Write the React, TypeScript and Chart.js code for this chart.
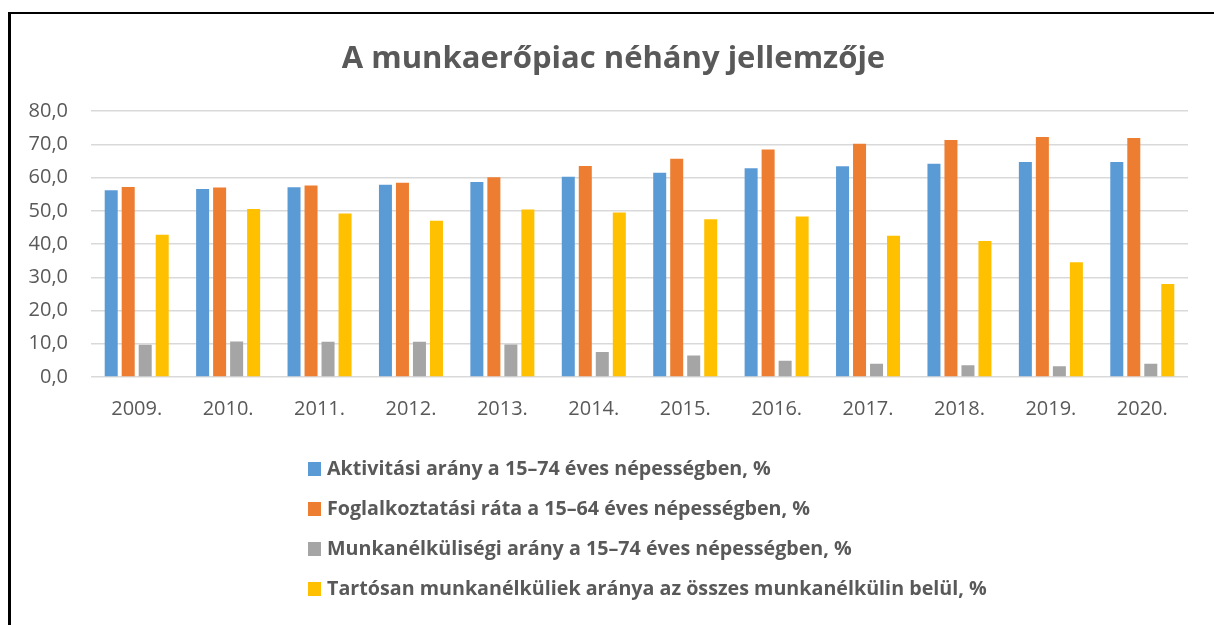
import React, { useEffect, useRef } from "react";
import { Chart, registerables } from "chart.js";

Chart.register(...registerables);

const categories = ["2009.", "2010.", "2011.", "2012.", "2013.", "2014.", "2015.", "2016.", "2017.", "2018.", "2019.", "2020."];
const activityRate = [56.2, 56.6, 57.1, 57.9, 58.7, 60.3, 61.5, 62.8, 63.4, 64.2, 64.7, 64.7];
const employmentRate = [57.2, 57.0, 57.6, 58.5, 60.1, 63.5, 65.7, 68.5, 70.2, 71.3, 72.2, 71.9];
const unemploymentRate = [9.7, 10.7, 10.6, 10.6, 9.8, 7.5, 6.5, 4.9, 4.0, 3.5, 3.2, 4.0];
const longTermShare = [42.8, 50.6, 49.2, 47.0, 50.4, 49.5, 47.5, 48.3, 42.5, 40.9, 34.5, 28.0];
const seriesLabels = [
  "Aktivitási arány a 15–74 éves népességben, %",
  "Foglalkoztatási ráta a 15–64 éves népességben, %",
  "Munkanélküliségi arány a 15–74 éves népességben, %",
  "Tartósan munkanélküliek aránya az összes munkanélkülin belül, %",
];
const seriesColors = ["#5B9BD5", "#ED7D31", "#A5A5A5", "#FFC000"];
const title = "A munkaerőpiac néhány jellemzője";

const FONT = "'Open Sans', 'Liberation Sans', sans-serif";
const TEXT = "#595959";

const shiftTitle = {
  id: "shiftTitle",
  afterLayout(chart: any) {
    if (chart.titleBlock) chart.titleBlock.left += 39;
  },
};

const stackedLegend = {
  id: "stackedLegend",
  afterDraw(chart: any) {
    const ctx = chart.ctx;
    ctx.save();
    ctx.font = `bold 19.7px ${FONT}`;
    ctx.textBaseline = "middle";
    ctx.textAlign = "left";
    chart.data.datasets.forEach((ds: any, i: number) => {
      const y = 469 + i * 40;
      ctx.fillStyle = ds.backgroundColor;
      ctx.fillRect(308, y - 7, 13, 14);
      ctx.fillStyle = TEXT;
      ctx.fillText(ds.label, 327, y);
    });
    ctx.restore();
  },
};

export default function App() {
  const ref = useRef<HTMLCanvasElement>(null);
  useEffect(() => {
    if (!ref.current) return;
    const data = [activityRate, employmentRate, unemploymentRate, longTermShare];
    const chart = new Chart(ref.current, {
      type: "bar",
      data: {
        labels: categories,
        datasets: data.map((d, i) => ({
          label: seriesLabels[i],
          data: d,
          backgroundColor: seriesColors[i],
          borderWidth: 0,
          categoryPercentage: 0.744,
          barPercentage: 0.765,
        })),
      },
      options: {
        responsive: false,
        animation: false,
        layout: { padding: { left: 0, right: 26, top: 0, bottom: 192 } },
        plugins: {
          legend: { display: false },
          tooltip: { enabled: false },
          title: {
            display: true,
            text: title,
            color: TEXT,
            font: { family: FONT, size: 31, weight: "bold" },
            padding: { top: 41, bottom: 33 },
          },
        },
        scales: {
          x: {
            grid: { display: false },
            border: { display: false },
            ticks: { color: TEXT, font: { family: FONT, size: 20 }, padding: 12, maxRotation: 0 },
          },
          y: {
            min: 0,
            max: 80,
            afterFit: (scale: any) => {
              scale.width = 91;
            },
            grid: { color: "#D9D9D9", lineWidth: 1.5, drawTicks: false },
            border: { display: false },
            ticks: {
              stepSize: 10,
              color: TEXT,
              padding: 23,
              font: { family: FONT, size: 20 },
              callback: (v: any) => Number(v).toFixed(1).replace(".", ","),
            },
          },
        },
      },
      plugins: [shiftTitle, stackedLegend],
    });
    return () => chart.destroy();
  }, []);
  return (
    <div style={{ position: "absolute", left: 0, top: 0, width: 1214, height: 625, overflow: "hidden", background: "#fff" }}>
      <canvas ref={ref} width={1214} height={625} style={{ position: "absolute", left: 0, top: 0 }} />
      <div
        style={{
          position: "absolute",
          left: 8,
          top: 12,
          width: 1400,
          height: 800,
          borderLeft: "3px solid #000",
          borderTop: "2px solid #000",
          boxSizing: "border-box",
        }}
      />
    </div>
  );
}
